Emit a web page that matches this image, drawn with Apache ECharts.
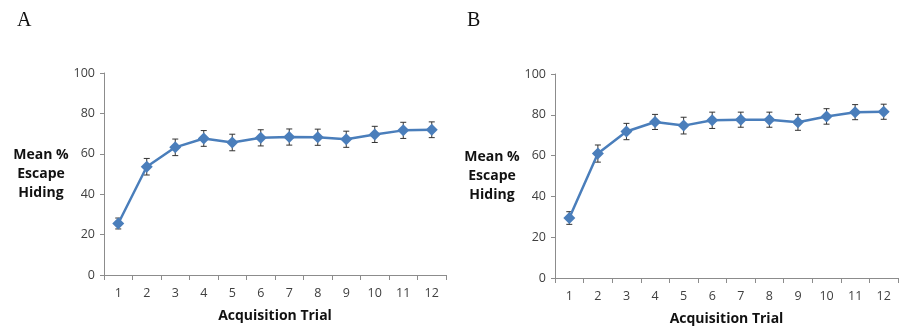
<!DOCTYPE html>
<html>
<head>
<meta charset="utf-8">
<script src="https://cdn.jsdelivr.net/npm/echarts@6/dist/echarts.min.js"></script>
<style>
html,body{margin:0;padding:0;background:#fff;}
#root{width:900px;height:331px;}
</style>
</head>
<body>
<div id="root"></div>
<script>
// acquisition trials
let trials = ['1','2','3','4','5','6','7','8','9','10','11','12'];
let yTicks = [0, 20, 40, 60, 80, 100];

// panel A
let meanA = [25.5, 53.6, 63.2, 67.6, 65.6, 67.9, 68.3, 68.2, 67.2, 69.6, 71.6, 71.9];
let errA  = [2.7, 4.1, 4.1, 3.9, 4.1, 4.0, 4.0, 4.0, 4.0, 4.0, 4.0, 3.9];

// panel B
let meanB = [29.4, 61.0, 71.8, 76.5, 74.7, 77.3, 77.6, 77.6, 76.3, 79.2, 81.3, 81.5];
let errB  = [3.1, 4.2, 4.0, 3.7, 4.1, 4.0, 3.7, 3.7, 3.9, 3.8, 3.7, 3.7];

let blue = '#4a7ebb';
let axisGray = '#8c8c8c';
let font = '"Open Sans", "Liberation Sans", sans-serif';

let root = document.getElementById('root');
let myCharts = echarts.init(root, null, {renderer: 'canvas'});

function xAxisOf(idx){
    return {
        type: 'category',
        gridIndex: idx,
        data: trials,
        boundaryGap: true,
        axisLine: {lineStyle: {color: axisGray, width: 1}},
        axisTick: {show: true, length: 5, lineStyle: {color: axisGray}},
        axisLabel: {color: '#404040', fontSize: 12.5, fontFamily: font, margin: 12},
        name: 'Acquisition Trial',
        nameLocation: 'middle',
        nameGap: 34,
        nameTextStyle: {color: '#111', fontSize: 14, fontWeight: 'bold', fontFamily: font}
    };
}
function yAxisOf(idx){
    return {
        type: 'value',
        gridIndex: idx,
        min: yTicks[0], max: yTicks[yTicks.length - 1], interval: yTicks[1] - yTicks[0],
        axisLine: {show: true, lineStyle: {color: axisGray, width: 1}},
        axisTick: {show: true, length: 4, lineStyle: {color: axisGray}},
        splitLine: {show: false},
        axisLabel: {color: '#404040', fontSize: 12.5, fontFamily: font, margin: 9},
        name: 'Mean %\nEscape\nHiding',
        nameLocation: 'middle',
        nameRotate: 0,
        nameGap: 62,
        nameTextStyle: {color: '#111', fontSize: 14, fontWeight: 'bold', fontFamily: font, lineHeight: 19, align: 'center', padding: [4, 0, 0, 0]}
    };
}

function errorSeries(idx, mean, err){
    return {
        type: 'custom',
        xAxisIndex: idx,
        yAxisIndex: idx,
        z: 1,
        data: mean.map((m, i) => [i, m - err[i], m + err[i]]),
        renderItem: function(params, api){
            let lo = api.coord([api.value(0), api.value(1)]);
            let hi = api.coord([api.value(0), api.value(2)]);
            let w = 3;
            let st = {stroke: '#333', lineWidth: 1};
            return {
                type: 'group',
                children: [
                    {type: 'line', shape: {x1: hi[0], y1: hi[1], x2: lo[0], y2: lo[1]}, style: st},
                    {type: 'line', shape: {x1: hi[0]-w, y1: hi[1], x2: hi[0]+w, y2: hi[1]}, style: st},
                    {type: 'line', shape: {x1: lo[0]-w, y1: lo[1], x2: lo[0]+w, y2: lo[1]}, style: st}
                ]
            };
        }
    };
}

function lineSeries(idx, mean){
    return {
        type: 'line',
        xAxisIndex: idx,
        yAxisIndex: idx,
        z: 2,
        data: mean,
        symbol: 'diamond',
        symbolSize: 12,
        lineStyle: {color: blue, width: 2.5},
        itemStyle: {color: blue},
        animation: false
    };
}

let option = {
    animation: false,
    title: [
        {text: 'A', left: 12, top: 6, textStyle: {fontFamily: '"Liberation Serif", serif', fontSize: 20, fontWeight: 'normal', color: '#111'}},
        {text: 'B', left: 462, top: 6, textStyle: {fontFamily: '"Liberation Serif", serif', fontSize: 20, fontWeight: 'normal', color: '#111'}}
    ],
    grid: [
        {left: 104, right: 454, top: 73, bottom: 56},
        {left: 555, right: 2, top: 74, bottom: 52}
    ],
    xAxis: [xAxisOf(0), xAxisOf(1)],
    yAxis: [yAxisOf(0), yAxisOf(1)],
    series: [
        errorSeries(0, meanA, errA),
        lineSeries(0, meanA),
        errorSeries(1, meanB, errB),
        lineSeries(1, meanB)
    ]
};
myCharts.setOption(option);
</script>
</body>
</html>
